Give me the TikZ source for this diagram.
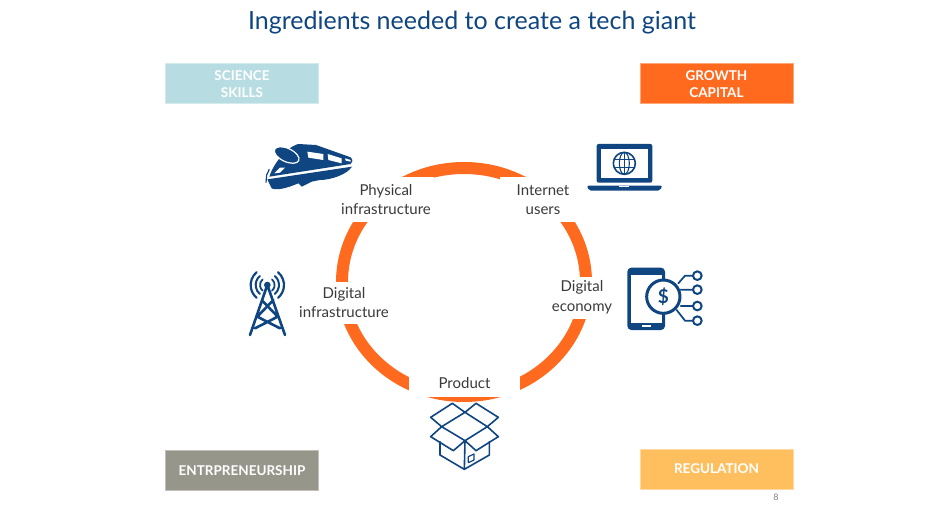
\documentclass[tikz,border=0pt]{standalone}
\usepackage{fontspec}
\setmainfont{Lato}
\usepackage{tikz}
\definecolor{navy}{HTML}{0F4580}
\definecolor{ringorange}{HTML}{FF6A1F}
\definecolor{textgray}{HTML}{3A3A3A}
\definecolor{sciblue}{HTML}{B7DDE2}
\definecolor{growth}{HTML}{FF6A1F}
\definecolor{entre}{HTML}{96968A}
\definecolor{regul}{HTML}{FFBF5F}

\begin{document}
\begin{tikzpicture}[x=1pt,y=-1pt,
  corner/.style = {draw=#1!60!white, line width=1pt, fill=#1, text=white, align=center,
    minimum width=153pt, minimum height=40pt, inner sep=0pt, font=\fontsize{13.5}{16.5}\selectfont\bfseries},
  stepname/.style = {fill=white, text=textgray, align=center, inner sep=0pt,
    font=\fontsize{15}{19.5}\selectfont},
  icon/.style = {draw=navy, line join=round, line cap=round}]
  \useasboundingbox (0,0) rectangle (945,508);
  \node[text=navy, font=\fontsize{25}{30}\selectfont] (title) at (472,23) {Ingredients needed to create a tech giant};
  % corners
  \node[corner=sciblue] (science) at (242,84) {SCIENCE\\SKILLS};
  \node[corner=growth] (capital) at (716.5,84) {GROWTH\\CAPITAL};
  \node[corner=entre] (entrepreneurship) at (242,470.5) {ENTRPRENEURSHIP};
  \node[corner=regul] (regulation) at (716.5,469) {REGULATION};
  \node[text=gray, font=\rmfamily\fontsize{9}{10}\selectfont] (page) at (776,497) {8};
  % ring
  \draw[ringorange, line width=12pt] (464,282) circle [x radius=122, y radius=114];
  \node[stepname, minimum width=96pt, minimum height=45pt] (physical) at (386,199.5) {Physical\\infrastructure};
  \node[stepname, minimum width=86pt, minimum height=45pt] (internet) at (543,199.5) {Internet\\users};
  \node[stepname, minimum width=96pt, minimum height=42pt] (diginfra) at (344,302.5) {Digital\\infrastructure};
  \node[stepname, minimum width=68pt, minimum height=42pt] (digeco) at (582,297.5) {Digital\\economy};
  \node[stepname, minimum width=111pt, minimum height=27pt] (product) at (464.5,383.5) {Product};
  % train
  \begin{scope}[shift={(230,130)},scale=1/3]
    \fill[navy] (118,140) .. controls (125,115) and (160,55) .. (205,42) -- (258,45) -- (362,82)
      .. controls (370,90) and (368,98) .. (362,102) -- cycle;
    \fill[navy] (112,148) -- (366,110) .. controls (350,135) and (300,150) .. (270,150) -- (245,155)
      -- (215,170) -- (205,160) .. controls (170,175) and (140,182) .. (125,175) -- cycle;
    \draw[navy, line width=1.2pt] (118,118) -- (110,135) -- (108,158);
    \draw[white, line width=1.2pt, fill=navy] (170,75) ellipse [x radius=40, y radius=20, rotate=-25];
    \fill[white] (232,65) -- (280,72) -- (280,90) -- (235,83) -- cycle;
    \fill[white] (293,72) -- (335,85) -- (335,100) -- (295,90) -- cycle;
    \fill[white] (345,85) -- (362,90) -- (362,95) -- (347,92) -- cycle;
    \fill[white] (133,130) -- (150,113) -- (165,113) -- (150,128) -- cycle;
  \end{scope}
  % laptop
  \begin{scope}[shift={(570,130)},scale=1/3]
    \fill[navy, rounded corners=2pt] (80,42) rectangle (247,158);
    \fill[white] (93,57) rectangle (233,145);
    \draw[icon, line width=1.6pt] (163,100) circle (33);
    \draw[icon, line width=1.1pt] (163,100) ellipse [x radius=15, y radius=33];
    \draw[icon, line width=1.1pt] (163,67) -- (163,133) (135,88) -- (191,88) (135,112) -- (191,112);
    \fill[navy, rounded corners=2pt] (50,167) -- (277,167) -- (270,182) -- (57,182) -- cycle;
    \fill[white] (148,167) rectangle (178,172);
  \end{scope}
  % coins
  \begin{scope}[shift={(610,255)},scale=1/3]
    \fill[navy, rounded corners=4pt] (52,38) rectangle (165,225);
    \fill[white] (63,60) rectangle (155,203);
    \fill[white] (95,209) rectangle (122,216);
    \draw[icon, line width=3pt, fill=white] (160,125) circle (50);
    \node[text=navy, inner sep=0pt, font=\fontsize{19}{19}\selectfont\bfseries] (dollar) at (160,125) {\$};
    \draw[icon, line width=1.7pt] (205,85) -- (225,62) -- (250,62) (212,104) -- (250,104)
      (212,153) -- (250,153) (200,165) -- (225,197) -- (250,197);
    \foreach \cy in {62,104,153,197}
      \draw[icon, line width=2pt, fill=white] (262,\cy) circle (13);
  \end{scope}
  % tower
  \begin{scope}[shift={(235,260)},scale=1/3]
    \draw[icon, line width=2.6pt] (45,225) -- (97,75) -- (150,225)
      (80,120) -- (128,170) -- (60,205) (115,120) -- (67,170) -- (135,205);
    \fill[navy] (97,75) circle (10);
    \foreach \rad/\wid in {22/1.8,35/2,50/2.2} {
      \draw[icon, line width=\wid pt] (97,75) ++(-130:\rad) arc (-130:-230:\rad);
      \draw[icon, line width=\wid pt] (97,75) ++(-50:\rad) arc (-50:50:\rad);
    }
  \end{scope}
  % box
  \begin{scope}[shift={(400,370)},scale=1/3]
    \draw[icon, line width=1.6pt] (125,170) -- (92,142) -- (157,100) -- (195,127) -- (228,100) -- (295,142) -- (262,170)
      -- (295,200) -- (228,242) -- (195,212) -- (160,242) -- (92,200) -- (125,170) -- (195,127) -- (262,170) -- (195,212) -- cycle;
    \draw[icon, line width=1.6pt] (120,215) -- (120,255) -- (193,298) -- (268,255) -- (268,215) (195,212) -- (193,298);
    \draw[icon, line width=1.2pt] (205,260) -- (222,252) -- (222,270) -- (205,278) -- cycle;
  \end{scope}
\end{tikzpicture}
\end{document}
